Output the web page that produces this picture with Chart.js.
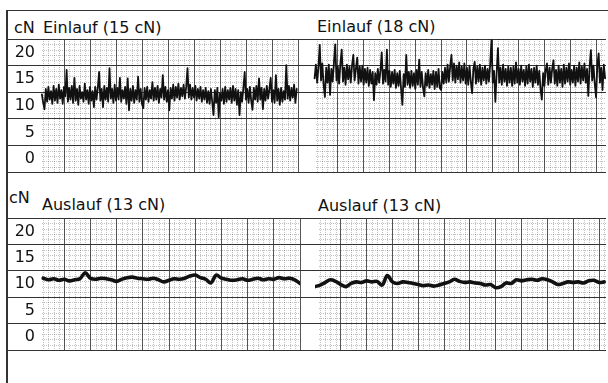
<!DOCTYPE html>
<html>
<head>
<meta charset="utf-8">
<script src="https://cdn.jsdelivr.net/npm/chart.js@4/dist/chart.umd.min.js"></script>
<style>
  body { margin: 0; background: #fff; width: 608px; height: 383px; overflow: hidden; position: relative; font-family: "DejaVu Sans", sans-serif; }
  canvas { position: absolute; }
  .frame { position: absolute; left: 6px; top: 10px; width: 602px; height: 373px; border-left: 2px solid #333; border-top: 1px solid #333; box-sizing: border-box; }
  .lbl { position: absolute; font-size: 16px; line-height: 16px; color: #111; white-space: nowrap; }
</style>
</head>
<body>
<div class="frame"></div>
<div class="lbl" style="left:14px; top:20px;">cN</div>
<div class="lbl" style="left:43px; top:20px;">Einlauf (15 cN)</div>
<div class="lbl" style="left:317px; top:19px;">Einlauf (18 cN)</div>
<div class="lbl" style="left:9px; top:190px;">cN</div>
<div class="lbl" style="left:42px; top:197px;">Auslauf (13 cN)</div>
<div class="lbl" style="left:318px; top:198px;">Auslauf (13 cN)</div>

<canvas id="c1" width="293" height="140" style="left:7px; top:35px;"></canvas>
<canvas id="c2" width="310" height="140" style="left:298px; top:35px;"></canvas>
<canvas id="c3" width="295" height="139" style="left:7px; top:214px;"></canvas>
<canvas id="c4" width="308" height="139" style="left:300px; top:214px;"></canvas>

<script>
const yTicks = [0, 5, 10, 15, 20, 25];

const einlauf15 = [
  14.6, 13.0, 11.8, 15.6, 13.2, 16.0, 13.6, 15.2, 12.8, 16.2,
  13.4, 15.6, 13.0, 16.4, 13.8, 15.4, 12.8, 16.0, 14.2, 19.2,
  13.2, 15.8, 13.6, 16.2, 13.0, 17.7, 13.4, 15.6, 12.6, 16.2,
  13.8, 15.0, 13.2, 16.6, 13.6, 15.4, 12.8, 16.0, 13.4, 15.2,
  12.2, 16.0, 13.6, 15.8, 18.8, 13.4, 15.6, 12.2, 16.2, 13.6,
  15.8, 13.2, 19.5, 13.8, 15.6, 13.0, 16.4, 13.4, 15.8, 13.6,
  17.7, 13.2, 15.4, 13.8, 16.0, 12.8, 17.6, 11.6, 15.6, 13.4,
  16.2, 13.0, 15.4, 13.6, 17.9, 13.2, 15.6, 12.8, 12.0, 15.8,
  13.6, 16.0, 13.2, 15.4, 13.8, 16.9, 13.4, 15.8, 13.6, 16.2,
  13.0, 15.6, 14.0, 18.2, 13.6, 16.0, 13.2, 15.4, 11.6, 15.8,
  13.8, 16.4, 13.4, 16.0, 14.0, 16.6, 13.6, 15.8, 14.2, 16.4,
  13.8, 16.0, 19.5, 14.0, 16.4, 13.6, 15.8, 14.0, 16.2, 13.4,
  15.6, 13.8, 16.0, 13.2, 15.4, 13.6, 15.8, 13.0, 15.2, 12.8,
  15.6, 13.2, 10.7, 15.4, 13.0, 15.8, 10.3, 14.8, 13.4, 15.6,
  12.8, 16.0, 13.2, 15.4, 13.6, 15.8, 13.0, 16.2, 13.4, 15.6,
  12.6, 15.4, 10.7, 15.0, 13.2, 15.8, 18.8, 13.6, 15.6, 13.0,
  16.0, 13.4, 11.7, 15.8, 13.6, 16.2, 13.2, 17.6, 13.6, 15.8,
  11.8, 15.6, 13.4, 16.2, 13.8, 15.6, 17.7, 13.2, 15.4, 13.0,
  18.2, 13.4, 15.6, 12.6, 15.8, 13.2, 15.2, 13.6, 20.1, 13.8,
  16.2, 13.4, 15.8, 14.0, 16.4, 13.0, 15.6
];

const einlauf18 = [
  17.6, 20.2, 16.8, 19.8, 23.9, 17.2, 20.4, 16.4, 14.1, 19.6,
  16.8, 20.2, 14.5, 19.4, 17.0, 20.6, 24.0, 17.2, 19.8, 16.6,
  20.4, 23.0, 17.0, 19.6, 16.4, 20.2, 17.4, 19.8, 16.8, 20.0,
  22.0, 17.2, 19.4, 21.5, 16.6, 19.8, 17.0, 20.0, 16.4, 19.4,
  16.8, 19.6, 16.2, 19.2, 16.6, 18.8, 13.5, 18.6, 16.4, 19.4,
  16.8, 19.0, 22.5, 16.6, 19.2, 17.0, 23.0, 16.4, 19.0, 16.0,
  18.8, 16.6, 19.2, 15.8, 18.6, 16.2, 19.0, 15.6, 12.6, 18.4,
  16.0, 22.0, 16.4, 18.8, 15.8, 19.0, 16.2, 18.6, 15.6, 19.2,
  16.4, 21.1, 16.0, 18.8, 15.8, 14.2, 18.6, 16.2, 19.2, 15.8,
  18.4, 16.4, 19.0, 15.6, 18.8, 16.0, 19.4, 15.8, 15.4, 18.8,
  16.6, 19.6, 16.8, 20.2, 17.0, 19.8, 22.0, 17.2, 20.4, 16.8,
  20.0, 17.4, 20.6, 16.8, 19.8, 17.2, 20.4, 16.6, 19.6, 16.4,
  20.0, 17.0, 14.8, 19.4, 20.7, 16.6, 19.8, 17.0, 20.2, 16.4,
  19.6, 17.2, 20.0, 16.6, 19.4, 17.0, 20.2, 24.8, 16.8, 19.0,
  13.2, 18.6, 23.3, 16.8, 19.6, 16.4, 20.2, 17.0, 19.4, 16.2,
  19.8, 16.8, 19.6, 16.2, 19.8, 16.6, 20.6, 16.8, 19.4, 16.4,
  20.0, 17.0, 19.2, 16.2, 19.8, 16.6, 20.2, 17.0, 19.4, 16.0,
  19.6, 16.8, 20.0, 16.4, 19.0, 15.6, 13.6, 18.6, 16.2, 19.2,
  20.4, 16.4, 19.6, 16.8, 19.4, 21.0, 16.6, 19.2, 16.2, 20.0,
  16.8, 19.4, 16.0, 20.2, 16.6, 19.6, 17.0, 20.4, 16.4, 19.2,
  16.8, 20.0, 16.2, 19.6, 17.0, 20.6, 16.6, 19.8, 17.2, 20.4,
  16.8, 19.4, 14.3, 19.8, 22.9, 17.2, 20.0, 16.6, 14.0, 20.2,
  22.3, 16.8, 19.6, 15.4, 20.2, 17.6
];

const auslauf13a = [
  13.6, 13.3, 13.5, 13.2, 13.4, 13.1, 13.3, 13.5, 14.6, 13.6,
  13.4, 13.6, 13.5, 13.3, 13.0, 13.4, 13.7, 13.8, 13.6, 13.5,
  13.4, 13.6, 13.3, 12.9, 13.2, 13.5, 13.4, 13.6, 14.0, 14.2,
  13.7, 13.4, 12.7, 14.2, 13.6, 13.4, 13.2, 13.3, 13.5, 13.2,
  13.4, 13.6, 13.3, 13.5, 13.4, 13.7, 13.5, 13.6, 13.3, 12.6
];

const auslauf13b = [
  12.0, 12.3, 12.8, 13.3, 13.0, 12.4, 12.0, 12.6, 12.9, 12.8,
  13.1, 12.9, 13.0, 12.3, 14.1, 12.9, 12.6, 12.9, 12.8, 12.6,
  12.4, 12.2, 12.3, 12.1, 12.3, 12.6, 12.9, 13.4, 13.0, 12.8,
  12.9, 12.7, 12.6, 12.3, 12.4, 11.8, 12.0, 12.7, 12.6, 13.3,
  13.1, 13.3, 13.4, 13.2, 13.5, 13.3, 12.9, 12.4, 12.6, 12.9,
  12.8, 12.9, 12.7, 13.1, 13.2, 12.8, 12.9
];

const minorGrid = {
  id: 'minorGrid',
  beforeDatasetsDraw(chart, args, opts) {
    const { ctx, chartArea: a, scales: { x, y } } = chart;
    const left = Math.round(x.getPixelForValue(opts.start));
    ctx.save();
    ctx.strokeStyle = 'rgba(0,0,0,0.24)';
    ctx.lineWidth = 1;
    ctx.setLineDash([1, 1]);
    ctx.beginPath();
    for (let k = 1; k / 5 < x.max; k++) {
      if (k % 5 === 0) continue;
      const px = Math.round(x.getPixelForValue(k / 5)) + 0.5;
      if (px < left) continue;
      ctx.moveTo(px, a.top);
      ctx.lineTo(px, a.bottom);
    }
    for (let v = 1; v < 25; v++) {
      if (v % 5 === 0) continue;
      const py = Math.round(y.getPixelForValue(v)) + 0.5;
      ctx.moveTo(left, py);
      ctx.lineTo(a.right, py);
    }
    ctx.stroke();
    ctx.restore();
  }
};

function panel(id, values, x0, dx, xMax, axisW, showLabels, lineW, tension) {
  new Chart(document.getElementById(id), {
    type: 'line',
    data: {
      datasets: [{
        data: values.map((v, i) => ({ x: x0 + i * dx, y: v })),
        borderColor: '#111',
        borderWidth: lineW,
        pointRadius: 0,
        tension: tension,
        borderJoinStyle: 'round',
        borderCapStyle: 'round'
      }]
    },
    options: {
      responsive: false,
      animation: false,
      events: [],
      layout: { padding: { top: 4, bottom: 3, left: 0, right: 2 } },
      plugins: {
        legend: { display: false },
        tooltip: { enabled: false },
        minorGrid: { start: 0.15 }
      },
      scales: {
        x: {
          type: 'linear',
          min: 0,
          max: xMax,
          afterBuildTicks: s => {
            const t = [];
            for (let k = 1; k <= Math.floor(xMax + 0.001); k++) t.push({ value: k });
            s.ticks = t;
          },
          ticks: { display: false },
          grid: { color: '#555', drawTicks: false },
          border: { display: false },
          afterFit: s => { s.height = 0; }
        },
        y: {
          min: 0,
          max: 25,
          afterBuildTicks: s => { s.ticks = yTicks.map(v => ({ value: v })); },
          ticks: {
            display: showLabels,
            padding: -(axisW - 3),
            labelOffset: -13,
            color: '#111',
            font: { family: 'DejaVu Sans', size: 16 },
            callback: v => (v === 25 ? '' : v)
          },
          grid: { color: '#333', tickLength: axisW },
          border: { display: false },
          afterFit: s => { s.width = axisW; }
        }
      }
    },
    plugins: [minorGrid]
  });
}

panel('c1', einlauf15, 0.15, 0.05, 10, 31, true, 1.8, 0);
panel('c2', einlauf18, 0.1, 0.05, 296 / 26, 14, false, 1.8, 0);
panel('c3', auslauf13a, 0.2, 0.2, 10, 31, true, 3.6, 0.35);
panel('c4', auslauf13b, 0, 0.2, 293 / 26, 15, false, 3.6, 0.35);
</script>
</body>
</html>
